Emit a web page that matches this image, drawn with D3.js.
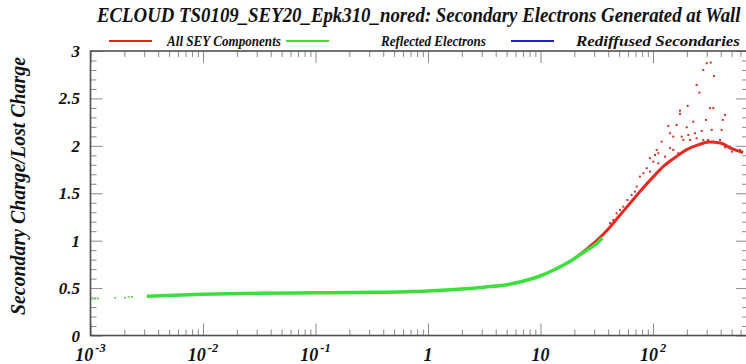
<!DOCTYPE html>
<html>
<head>
<meta charset="utf-8">
<script src="https://cdn.jsdelivr.net/npm/d3@7"></script>
<style>
  body { margin: 0; background: #fff; }
  svg text { font-family: "Liberation Serif", "DejaVu Serif", serif; font-weight: bold; font-style: italic; fill: #111; }
</style>
</head>
<body>
<svg id="chart" width="746" height="364"></svg>
<script>
// ---- data (x is energy on a log axis) ----
const titleText = "ECLOUD TS0109_SEY20_Epk310_nored: Secondary Electrons Generated at Wall";
const yTitle = "Secondary Charge/Lost Charge";
const legendNames = ["All SEY Components", "Reflected Electrons", "Rediffused Secondaries"];
const legendColors = ["#e8201c", "#3ce03c", "#2020c8"];

const xDecades = [-3, -2, -1, 0, 1, 2];
const xLabels = [["10", "-3"], ["10", "-2"], ["10", "-1"], ["1", ""], ["10", ""], ["10", "2"]];
const yLabels = [0, 0.5, 1, 1.5, 2, 2.5, 3];

// reflected (green) dense band: log10(x), y
const greenLogX = [-2.5, -2.0, -1.5, -1.0, -0.5, 0.0, 0.3, 0.5, 0.7, 0.9, 1.0, 1.1, 1.2, 1.3, 1.4, 1.5, 1.55];
const greenY    = [0.415, 0.435, 0.445, 0.45, 0.455, 0.47, 0.49, 0.51, 0.535, 0.59, 0.63, 0.68, 0.74, 0.81, 0.89, 0.97, 1.03];
// sparse green points at the low end
const greenDotLogX = [-2.987, -2.96, -2.933, -2.782, -2.693, -2.66, -2.631];
const greenDotY    = [0.385, 0.385, 0.387, 0.396, 0.396, 0.403, 0.406];

// all SEY (red) main band
const redLogX = [1.3, 1.4, 1.5, 1.6, 1.7, 1.8, 1.9, 2.0, 2.1, 2.2, 2.3, 2.4, 2.5, 2.6, 2.7, 2.8];
const redY    = [0.81, 0.90, 1.00, 1.12, 1.26, 1.40, 1.54, 1.67, 1.79, 1.88, 1.96, 2.01, 2.04, 2.03, 1.97, 1.93];
// scattered red points
const redDotLogX = [2.477, 2.513, 2.447, 2.542, 2.388, 2.412, 2.308, 2.24, 2.24, 2.507, 2.536, 2.64, 2.62, 2.471,
  2.136, 2.21, 2.358, 2.30, 2.151, 2.18, 2.255, 2.314, 2.373, 2.433, 2.522, 2.61, 2.077, 2.27, 2.33, 2.388,
  2.447, 2.49, 2.536, 2.596, 2.64, 2.684, 2.70, 2.033, 2.018, 2.047, 2.107, 2.151, 2.18, 2.225, 1.973, 2.003,
  2.047, 1.944, 1.973, 1.914, 1.884, 1.855, 1.84, 1.81, 1.772, 1.736, 1.707, 1.677, 1.647, 1.618, 2.773, 2.79];
const redDotY = [2.871, 2.878, 2.80, 2.737, 2.642, 2.561, 2.421, 2.371, 2.337, 2.397, 2.397, 2.326, 2.273, 2.273,
  2.21, 2.22, 2.255, 2.196, 2.133, 2.097, 2.097, 2.115, 2.133, 2.157, 2.168, 2.168, 2.044, 2.062, 2.062, 2.08,
  2.062, 2.062, 2.044, 2.062, 1.985, 1.992, 1.939, 1.957, 1.904, 1.922, 1.886, 1.975, 1.957, 1.922, 1.869, 1.833,
  1.816, 1.764, 1.728, 1.711, 1.675, 1.57, 1.517, 1.482, 1.429, 1.359, 1.324, 1.289, 1.218, 1.184, 1.957, 1.94];

// ---- layout ----
const xMin = 1e-3, xMax = 700;
const plotLeft = 90.5, plotTop = 51, plotBottom = 335.5;
const plotRight = plotLeft + 112.5 * Math.log10(xMax / xMin);

const svg = d3.select("#chart");

const x = d3.scaleLog().domain([xMin, xMax]).range([plotLeft, plotRight]);
const y = d3.scaleLinear().domain([0, 3]).range([plotBottom, plotTop]);

// ticks
let xMajor = xDecades.map(d => Math.pow(10, d));
let xMinor = [];
xDecades.forEach(d => {
  for (let k = 2; k <= 9; k++) {
    let v = k * Math.pow(10, d);
    if (v <= xMax) xMinor.push(v);
  }
});
let yMinor = d3.range(0, 31).map(i => i / 10).filter(v => Math.abs(v * 2 - Math.round(v * 2)) > 1e-6);

function styleAxis(g) {
  g.select(".domain").remove();
  g.selectAll("line").attr("stroke", "#8a8a8a").attr("stroke-width", 1);
  g.selectAll("text").remove();
}

svg.append("g").attr("transform", `translate(0,${plotBottom})`)
  .call(d3.axisBottom(x).tickValues(xMajor).tickSize(-12)).call(styleAxis);
svg.append("g").attr("transform", `translate(0,${plotBottom})`)
  .call(d3.axisBottom(x).tickValues(xMinor).tickSize(-6)).call(styleAxis);
svg.append("g").attr("transform", `translate(0,${plotTop})`)
  .call(d3.axisTop(x).tickValues(xMajor).tickSize(-12)).call(styleAxis);
svg.append("g").attr("transform", `translate(0,${plotTop})`)
  .call(d3.axisTop(x).tickValues(xMinor).tickSize(-6)).call(styleAxis);
svg.append("g").attr("transform", `translate(${plotLeft},0)`)
  .call(d3.axisLeft(y).tickValues(yLabels).tickSize(-12)).call(styleAxis);
svg.append("g").attr("transform", `translate(${plotLeft},0)`)
  .call(d3.axisLeft(y).tickValues(yMinor).tickSize(-6)).call(styleAxis);
svg.append("g").attr("transform", `translate(${plotRight},0)`)
  .call(d3.axisRight(y).tickValues(yLabels).tickSize(-12)).call(styleAxis);
svg.append("g").attr("transform", `translate(${plotRight},0)`)
  .call(d3.axisRight(y).tickValues(yMinor).tickSize(-6)).call(styleAxis);

// frame
svg.append("rect")
  .attr("x", plotLeft).attr("y", plotTop)
  .attr("width", plotRight - plotLeft).attr("height", plotBottom - plotTop)
  .attr("fill", "none").attr("stroke", "#505050").attr("stroke-width", 1.6);

// data
const line = d3.line().x(d => x(Math.pow(10, d[0]))).y(d => y(d[1])).curve(d3.curveMonotoneX);

svg.append("path")
  .datum(redLogX.map((v, i) => [v, redY[i]]))
  .attr("d", line).attr("fill", "none")
  .attr("stroke", "#e42a22").attr("stroke-width", 3);

svg.append("g").selectAll("rect")
  .data(redDotLogX.map((v, i) => [v, redDotY[i]]))
  .join("rect")
  .attr("x", d => x(Math.pow(10, d[0])) - 1)
  .attr("y", d => y(d[1]) - 1)
  .attr("width", 2).attr("height", 2)
  .attr("fill", "#d8302a");

svg.append("path")
  .datum(greenLogX.map((v, i) => [v, greenY[i]]))
  .attr("d", line).attr("fill", "none")
  .attr("stroke", "#3ce03c").attr("stroke-width", 3.5);

svg.append("g").selectAll("rect")
  .data(greenDotLogX.map((v, i) => [v, greenDotY[i]]))
  .join("rect")
  .attr("x", d => x(Math.pow(10, d[0])) - 1)
  .attr("y", d => y(d[1]) - 1)
  .attr("width", 2).attr("height", 1.5)
  .attr("fill", "#5acb4a");

// tick labels
svg.append("g").selectAll("text")
  .data(yLabels)
  .join("text")
  .attr("x", 80).attr("y", d => y(d) + 6)
  .attr("text-anchor", "end")
  .style("font-size", "17px")
  .text(d => d);

let xl = svg.append("g").selectAll("text")
  .data(xDecades)
  .join("text")
  .attr("x", d => x(Math.pow(10, d)))
  .attr("y", 361)
  .attr("text-anchor", "middle")
  .style("font-size", "18px");
xl.append("tspan").text((d, i) => xLabels[i][0]);
xl.append("tspan").attr("dy", -9).attr("dx", 2).style("font-size", "12.5px").text((d, i) => xLabels[i][1]);

// squeeze a text horizontally so it spans the given width
function fitWidth(sel, x0, y0, w) {
  let natural = sel.node().getComputedTextLength();
  sel.attr("transform", `translate(${x0},${y0}) scale(${w / natural},1)`);
}

// titles
let title = svg.append("text")
  .style("font-size", "20.5px")
  .text(titleText);
fitWidth(title, 97, 22, 644);

svg.append("text")
  .attr("transform", "translate(25,186) rotate(-90)")
  .attr("text-anchor", "middle")
  .attr("textLength", 258)
  .attr("lengthAdjust", "spacingAndGlyphs")
  .style("font-size", "21px")
  .text(yTitle);

// legend
const legendLineX = [109, 286, 511];
const legendTextX = [167, 381, 576];
const legendTextW = [114, 105, 164];
const legend = svg.append("g").selectAll("g")
  .data(legendNames)
  .join("g");
legend.append("line")
  .attr("x1", (d, i) => legendLineX[i]).attr("x2", (d, i) => legendLineX[i] + 43)
  .attr("y1", 41).attr("y2", 41)
  .attr("stroke", (d, i) => legendColors[i]).attr("stroke-width", 2);
legend.append("text")
  .style("font-size", "15px")
  .text(d => d)
  .each(function (d, i) { fitWidth(d3.select(this), legendTextX[i], 46, legendTextW[i]); });
</script>
</body>
</html>
